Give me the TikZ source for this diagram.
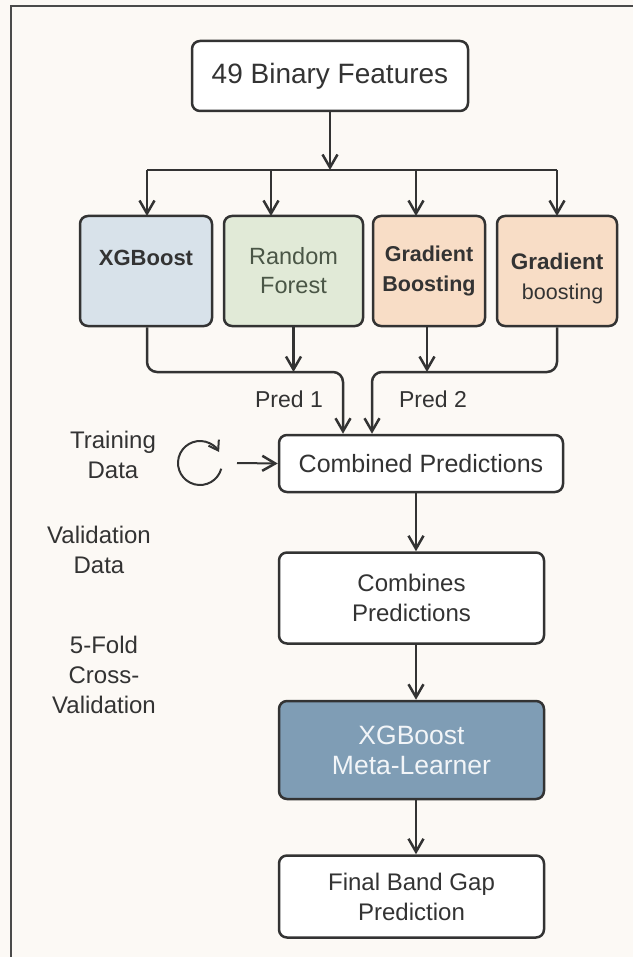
\documentclass[tikz,border=0pt]{standalone}
\usepackage{fontspec}
\setmainfont{Liberation Sans}
\usetikzlibrary{arrows.meta,positioning}

\definecolor{bgcream}{HTML}{FCF9F5}
\definecolor{inkgray}{HTML}{333333}
\definecolor{framegray}{HTML}{4A4A4A}
\definecolor{xgbblue}{HTML}{D8E2EA}
\definecolor{rfgreen}{HTML}{E1EAD7}
\definecolor{rftext}{HTML}{4A5646}
\definecolor{gbpeach}{HTML}{F8DDC6}
\definecolor{metablue}{HTML}{7F9DB5}
\definecolor{metatext}{HTML}{F2F5F8}

\begin{document}
\begin{tikzpicture}[x=1pt,y=-1pt]
    \tikzstyle{stagebox}=[draw=inkgray, line width=2.5pt, rounded corners=8pt,
                          fill=white, text=inkgray, align=center, inner sep=0pt,
                          font=\fontsize{24}{30}\selectfont]
    \tikzstyle{modelbox}=[stagebox, minimum height=110pt]
    \tikzstyle{flowline}=[draw=inkgray, line width=2.5pt]
    \tikzstyle{flowarrow}=[flowline, -{Straight Barb[length=13pt,width=15pt,line width=2.5pt]}]
    \tikzstyle{sidelabel}=[text=inkgray, align=center, font=\fontsize{24}{30}\selectfont]

    % Background and frame
    \fill[bgcream] (0,0) rectangle (633,957);
    \useasboundingbox (0,0) rectangle (633,957);
    \draw[framegray, line width=2pt] (11,957) -- (11,6) -- (633,6);

    % Input features
    \node [stagebox, minimum width=276pt, minimum height=70pt,
           font=\fontsize{28}{34}\selectfont] (feat) at (330,76) {49 Binary Features};

    % Base models
    \node [modelbox, fill=xgbblue, minimum width=132pt, text depth=26pt,
           font=\fontsize{22}{28}\selectfont\bfseries] (xgb) at (146,271) {XGBoost};
    \node [modelbox, fill=rfgreen, text=rftext, minimum width=139pt,
           font=\fontsize{23.5}{29}\selectfont] (rf) at (293.5,271) {Random\\Forest};
    \node [modelbox, fill=gbpeach, minimum width=112pt,
           font=\fontsize{21.5}{30}\selectfont\bfseries] (gb) at (429,271) {Gradient\\Boosting};
    \node [modelbox, fill=gbpeach, minimum width=120pt, align=right,
           font=\fontsize{22.5}{30}\selectfont] (gbb) at (557,271)
          {\rule{0pt}{32pt}\textbf{Gradient}\\{\fontsize{21.5}{30}\selectfont boosting}};

    % Feature fan-out
    \coordinate (bar) at (330,170);
    \coordinate (in1) at (147,216);
    \coordinate (in2) at (271,216);
    \coordinate (in3) at (416,216);
    \coordinate (in4) at (557,216);
    \draw[flowarrow] (feat.south) -- (bar);
    \draw[flowline] (in1 |- bar) -- (in4 |- bar);
    \foreach \i in {1,...,4}
        \draw[flowarrow] (in\i |- bar) -- (in\i);

    % Stacking chain
    \node [stagebox, minimum width=284pt, minimum height=57pt,
           font=\fontsize{25}{30}\selectfont] (comb) at (421,463.5) {Combined Predictions};
    \node [stagebox, minimum width=265pt, minimum height=91pt,
           below right=58pt and 0pt of comb.south west] (combs) {Combines\\Predictions};
    \node [stagebox, fill=metablue, text=metatext, minimum width=265pt, minimum height=98pt,
           font=\fontsize{26.5}{30}\selectfont, below=55pt of combs] (meta) {XGBoost\\Meta-Learner};
    \node [stagebox, minimum width=265pt, minimum height=82pt,
           below=54pt of meta] (final) {Final Band Gap\\Prediction};

    % Predictions merging into the combiner
    \coordinate (join1) at (343,372);
    \coordinate (join2) at (372,372);
    \draw[flowarrow, rounded corners=10pt] (xgb.south -| in1) |- (join1) -- (join1 |- comb.north);
    \draw[flowarrow, rounded corners=10pt] (gbb.south) |- (join2) -- (join2 |- comb.north);
    \draw[flowarrow] (rf.south) -- (rf.south |- join1);
    \draw[flowarrow] (gb.south -| 427,0) -- (join2 -| 427,0);
    \node [sidelabel, font=\fontsize{23}{28}\selectfont] (pone) at (289,399) {Pred 1};
    \node [sidelabel, font=\fontsize{23}{28}\selectfont] (ptwo) at (433,399) {Pred 2};

    % Main spine
    \coordinate (spine) at (416,0);
    \draw[flowarrow] (comb.south -| spine) -- (combs.north -| spine);
    \draw[flowarrow] (combs.south -| spine) -- (meta.north -| spine);
    \draw[flowarrow] (meta.south -| spine) -- (final.north -| spine);

    % Data labels on the left
    \node [sidelabel] (train) at (113,455) {Training\\Data};
    \node [sidelabel] (valid) at (99,550) {Validation\\Data};
    \node [sidelabel] (kfold) at (104,675) {5-Fold\\Cross-\\Validation};

    % Cycle icon feeding the combiner
    \coordinate (cyc) at (200,463);
    \coordinate (cycout) at (237,463);
    \draw[flowline, line width=2pt, -{Straight Barb[length=9pt,width=12pt,line width=2pt]}]
        ([shift={(15:22)}]cyc) arc[start angle=15, end angle=330, radius=22];
    \draw[flowarrow, line width=2pt] (cycout) -- (comb.west);
\end{tikzpicture}
\end{document}
